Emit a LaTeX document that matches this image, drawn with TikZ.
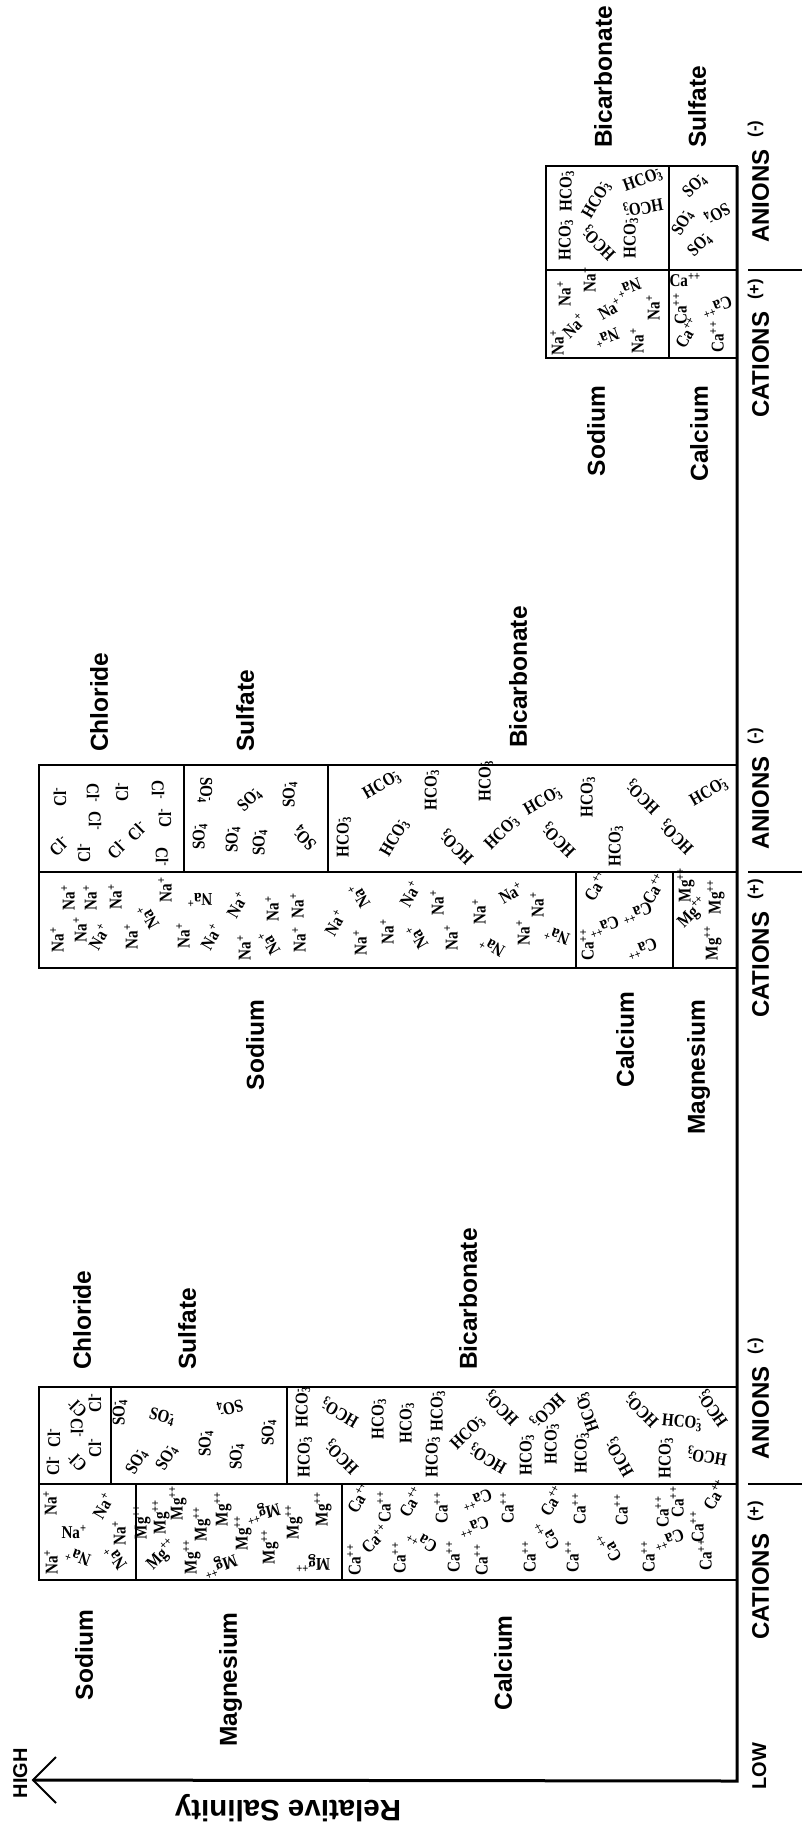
\documentclass[tikz,border=0pt]{standalone}
\usepackage{fontspec}
\setmainfont{Liberation Serif}
\setsansfont{Liberation Sans}
% ion formulas, set a little condensed
\newcommand\cond[1]{\scalebox{0.84}[1]{#1}}
\newcommand\ionNa{\cond{Na\textsuperscript{+}}}
\newcommand\ionMg{\cond{Mg\textsuperscript{++}}}
\newcommand\ionCa{\cond{Ca\textsuperscript{++}}}
\newcommand\ionCl{\cond{Cl\textsuperscript{-}}}
\newcommand\ionSO{\cond{SO\rlap{\textsuperscript{-}}\textsubscript{4}}}
\newcommand\ionHC{\cond{HCO\rlap{\textsuperscript{-}}\textsubscript{3}}}
\begin{document}
\begin{tikzpicture}[x=1pt,y=-1pt,
  ion/.style={font=\bfseries\fontsize{18}{18}\selectfont, inner sep=0pt},
  lab/.style={font=\sffamily\bfseries\fontsize{24.5}{24.5}\selectfont, inner sep=0pt,
              rotate=90, text height=17.6pt, text depth=0pt},
  side/.style={lab, font=\sffamily\bfseries\fontsize{24}{24}\selectfont},
  ends/.style={lab, font=\sffamily\bfseries\fontsize{20}{20}\selectfont, text height=14.3pt},
  cell/.style={line width=2.5pt},
  axis/.style={line width=3pt},
  tick/.style={line width=2.2pt}]
\useasboundingbox (0,0) rectangle (802,1833);

% ---------- high-salinity group ----------
\draw[cell] (546,166) rectangle (737,358);
\draw[cell] (546,270) -- (737,270);
\draw[cell] (669,166) -- (669,358);

% ---------- middle group ----------
\draw[cell] (39,765) rectangle (737,968);
\draw[cell] (39,872) -- (737,872);
\draw[cell] (184,765) -- (184,872);
\draw[cell] (328,765) -- (328,872);
\draw[cell] (576,872) -- (576,968);
\draw[cell] (673,872) -- (673,968);

% ---------- low-salinity group ----------
\draw[cell] (39,1387) rectangle (737,1580);
\draw[cell] (39,1484) -- (737,1484);
\draw[cell] (111,1387) -- (111,1484);
\draw[cell] (287,1387) -- (287,1484);
\draw[cell] (136,1484) -- (136,1580);
\draw[cell] (342,1484) -- (342,1580);

% ---------- axes ----------
\coordinate (axtop) at (737,166);
\coordinate (corner) at (737,1781);
\coordinate (tip) at (33,1780);
\coordinate (barbA) at (56,1757);
\coordinate (barbB) at (56,1803);
\draw[axis] (axtop) -- (corner) -- (tip);
\draw[line width=2pt] (barbA) -- (tip) -- (barbB);

\foreach \t [count=\i] in {270,872,1484}{
  \coordinate (tk\i a) at (748,\t);
  \coordinate (tk\i b) at (802,\t);
  \draw[tick] (tk\i a) -- (tk\i b);
}

% ---------- axis labels ----------
\node[ends] (high) at (20,1773) {HIGH};
\node[ends] (low) at (759,1766) {LOW};
\node[font=\sffamily\bfseries\fontsize{29.5}{29.5}\selectfont, inner sep=0pt, rotate=180] (salinity) at (288,1808) {Relative Salinity};

\foreach \t/\s/\n in {243/278/3, 850/878/2, 1460/1500/1}{
  \node[side, anchor=west] (an\n) at (760,\t) {ANIONS\hspace{0.5em}\textsuperscript{(-)}};
  \node[side, anchor=east] (ca\n) at (760,\s) {CATIONS\hspace{0.5em}\textsuperscript{(+)}};
}

% ---------- ion group labels ----------
\foreach \x/\y/\s [count=\i] in {603/148/Bicarbonate, 697/148/Sulfate,
    99/752/Chloride, 245/752/Sulfate, 518/748/Bicarbonate,
    82/1370/Chloride, 187/1370/Sulfate, 468/1370/Bicarbonate}{
  \node[lab, anchor=west] (anl\i) at (\x,\y) {\s};
}
\foreach \x/\y/\s [count=\i] in {596/386/Sodium, 699/386/Calcium,
    255/1000/Sodium, 625/992/Calcium, 696/1000/Magnesium,
    84/1610/Sodium, 228/1612/Magnesium, 503/1615/Calcium}{
  \node[lab, anchor=east] (cal\i) at (\x,\y) {\s};
}

% ---------- sodium ions ----------
\foreach \x/\y/\a [count=\i] in {
  50/1503/90, 74/1532/0, 103/1506/60, 119/1533/90, 51/1562/90, 78/1557/160, 115/1558/125,
  68/898/90, 90/898/90, 115/897/90, 165/890/90, 148/917/120, 200/900/180, 237/905/60,
  272/909/90, 297/906/90, 57/940/90, 80/930/90, 99/937/60, 131/937/90, 183/936/90,
  211/937/60, 244/948/90, 269/943/120, 299/940/90, 335/923/60, 359/896/120, 360/943/90,
  410/894/60, 387/932/90, 417/937/120, 437/903/90, 451/938/90, 479/912/90, 492/947/150,
  511/893/30, 523/933/90, 537/905/90, 557/936/160,
  557/343/90, 564/294/90, 574/326/45, 589/280/90, 610/309/30, 629/288/200, 607/338/200,
  637/341/90, 653/308/90}{
  \node[ion, rotate=\a] (na\i) at (\x,\y) {\ionNa};
}

% ---------- magnesium ions ----------
\foreach \x/\y/\a [count=\i] in {
  142/1522/90, 161/1517/90, 178/1503/90, 202/1524/90, 223/1509/90, 263/1512/195,
  294/1522/90, 323/1509/90, 162/1555/45, 192/1557/90, 220/1565/200, 243/1533/90,
  270/1547/90, 313/1563/180,
  686/885/90, 693/913/45, 716/897/90, 713/943/90}{
  \node[ion, rotate=\a] (mg\i) at (\x,\y) {\ionMg};
}

% ---------- calcium ions ----------
\foreach \x/\y/\a [count=\i] in {
  354/1560/90, 359/1498/60, 384/1507/90, 375/1539/45, 411/1502/60, 399/1558/90,
  422/1541/150, 441/1508/90, 453/1557/90, 477/1500/200, 474/1527/200, 481/1560/90,
  507/1508/90, 529/1557/90, 552/1501/60, 547/1535/120, 572/1557/90, 579/1509/90,
  609/1547/120, 621/1510/90, 648/1557/90, 662/1512/90, 669/1540/200, 677/1502/90,
  697/1527/90, 705/1555/90, 715/1495/60,
  596/886/60, 587/945/90, 604/927/200, 637/913/200, 654/889/60, 642/949/200,
  685/280/0, 680/309/90, 687/333/60, 717/307/200, 717/337/90}{
  \node[ion, rotate=\a] (ca\i) at (\x,\y) {\ionCa};
}

% ---------- chloride ions ----------
\foreach \x/\y/\a [count=\i] in {
  53/1466/90, 54/1438/90, 77/1462/135, 77/1408/135, 77/1428/-90, 95/1448/90, 95/1403/90,
  60/797/90, 93/793/-90, 122/792/90, 158/790/-90, 95/821/-90, 137/831/45, 165/818/90,
  59/846/45, 84/853/90, 117/849/45, 162/857/-90}{
  \node[ion, rotate=\a] (cl\i) at (\x,\y) {\ionCl};
}

% ---------- sulfate ions ----------
\foreach \x/\y/\a [count=\i] in {
  120/1413/90, 162/1417/-15, 230/1407/195, 269/1433/90, 137/1462/60, 167/1458/60,
  206/1444/90, 237/1457/90,
  200/837/90, 233/840/90, 260/843/90, 305/838/135, 205/790/-90, 250/800/45, 290/795/90,
  695/186/45, 683/223/60, 717/213/210, 700/245/45}{
  \node[ion, rotate=\a] (so\i) at (\x,\y) {\ionSO};
}

% ---------- bicarbonate ions ----------
\foreach \x/\y/\a [count=\i] in {
  303/1407/90, 305/1457/90, 340/1412/150, 342/1457/135, 379/1419/90, 407/1423/90,
  438/1411/90, 502/1408/135, 547/1410/225, 588/1412/110, 642/1410/135, 433/1457/90,
  468/1433/45, 488/1458/150, 527/1455/90, 552/1444/90, 582/1453/90, 620/1457/120,
  682/1423/-5, 713/1408/125, 666/1458/90, 707/1456/170,
  588/797/90, 643/797/135, 709/792/30, 559/840/135, 616/846/90, 677/837/135,
  344/837/90, 395/838/60, 457/847/135, 502/833/45, 382/785/30, 432/790/90,
  486/781/90, 543/801/30,
  566/240/90, 567/191/90, 599/243/135, 597/200/60, 643/180/20, 643/207/190, 631/238/90}{
  \node[ion, rotate=\a] (hc\i) at (\x,\y) {\ionHC};
}
\end{tikzpicture}
\end{document}
